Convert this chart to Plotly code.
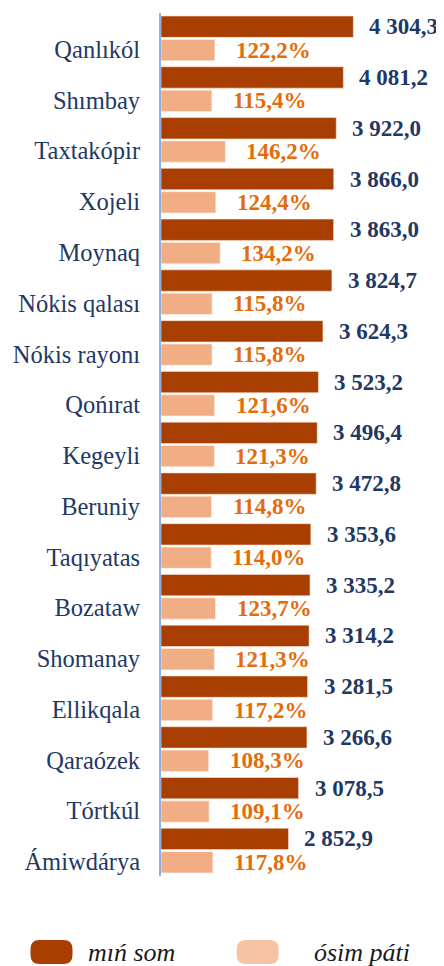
import plotly.graph_objects as go

categories = ["Qanlıkól", "Shımbay", "Taxtakópir", "Xojeli", "Moynaq", "Nókis qalası",
              "Nókis rayonı", "Qońırat", "Kegeyli", "Beruniy", "Taqıyatas", "Bozataw",
              "Shomanay", "Ellikqala", "Qaraózek", "Tórtkúl", "Ámiwdárya"]
min_som = [4304.3, 4081.2, 3922.0, 3866.0, 3863.0, 3824.7, 3624.3, 3523.2, 3496.4,
           3472.8, 3353.6, 3335.2, 3314.2, 3281.5, 3266.6, 3078.5, 2852.9]
osim_pati = [122.2, 115.4, 146.2, 124.4, 134.2, 115.8, 115.8, 121.6, 121.3,
             114.8, 114.0, 123.7, 121.3, 117.2, 108.3, 109.1, 117.8]
series_names = ["mıń som", "ósim páti"]

# page offset of the plot div (default body margin)
OFF = 8
W, H = 444 - OFF, 966 - OFF
ML, MR, MT, MB = 156 - OFF, 10, 13 - OFF, 90
PW = W - ML - MR
PH = H - MT - MB

DARK = "#A83E02"
LIGHT = "#F1AE85"
NAVY = "#1F3864"
ORANGE = "#E46C0A"
SERIF = "Liberation Serif, Times New Roman, serif"


def fmt_num(v):
    return f"{v:,.1f}".replace(",", " ").replace(".", ",")


def fmt_pct(v):
    return f"{v:.1f}%".replace(".", ",")


fig = go.Figure()
fig.add_trace(go.Bar(
    y=categories, x=min_som, orientation="h", name=series_names[0],
    marker=dict(color=DARK, line=dict(color="rgba(255,230,215,0.7)", width=0.8)),
    offset=-0.44, width=0.42, xaxis="x", yaxis="y", showlegend=False,
))
fig.add_trace(go.Bar(
    y=categories, x=osim_pati, orientation="h", name=series_names[1],
    marker=dict(color=LIGHT, line=dict(color="rgba(255,240,230,0.8)", width=0.8)),
    offset=0.02, width=0.42, xaxis="x2", yaxis="y", showlegend=False,
))

annotations = []
for i, (v, g) in enumerate(zip(min_som, osim_pati)):
    annotations.append(dict(
        x=v, y=i - 0.23, xref="x", yref="y", text=fmt_num(v), showarrow=False,
        xanchor="left", yanchor="middle", xshift=14,
        font=dict(family=SERIF, size=23, color=NAVY, weight="bold"),
    ))
    annotations.append(dict(
        x=g, y=i + 0.23, xref="x2", yref="y", text=fmt_pct(g), showarrow=False,
        xanchor="left", yanchor="middle", xshift=19,
        font=dict(family=SERIF, size=23, color=ORANGE, weight="bold"),
    ))


def px_x(px):
    return (px - OFF - ML) / PW


def px_y(py):
    return (H - MB - (py - OFF)) / PH


def pill(w, h, r):
    hw, hh = w / 2, h / 2
    return (f"M {-hw + r},{-hh} L {hw - r},{-hh} Q {hw},{-hh} {hw},{-hh + r} "
            f"L {hw},{hh - r} Q {hw},{hh} {hw - r},{hh} L {-hw + r},{hh} "
            f"Q {-hw},{hh} {-hw},{hh - r} L {-hw},{-hh + r} Q {-hw},{-hh} {-hw + r},{-hh} Z")


legend_items = [(44.5, 80, DARK, series_names[0]), (254.5, 310, "#F6C3A3", series_names[1])]
shapes = []
for cx, tx, col, name in legend_items:
    shapes.append(dict(
        type="path", xref="paper", yref="paper", xsizemode="pixel", ysizemode="pixel",
        xanchor=px_x(cx), yanchor=px_y(952), path=pill(42, 24, 9),
        fillcolor=col, line=dict(width=0),
    ))
    annotations.append(dict(
        x=px_x(tx), y=px_y(952), xref="paper", yref="paper", text=f"<i>{name}</i>",
        showarrow=False, xanchor="left", yanchor="middle",
        font=dict(family=SERIF, size=26, color="#1a1a1a"),
    ))

fig.update_layout(
    width=W, height=H,
    margin=dict(l=ML, r=MR, t=MT, b=MB),
    paper_bgcolor="white", plot_bgcolor="white",
    barmode="overlay",
    showlegend=False,
    xaxis=dict(range=[0, 6110], visible=False, fixedrange=True),
    xaxis2=dict(range=[0, 619.5], overlaying="x", visible=False, fixedrange=True),
    yaxis=dict(
        type="category", range=[16.5, -0.5], showline=True, linecolor="#93AEDA",
        linewidth=2, showgrid=False, zeroline=False, ticks="",
        ticklabelstandoff=14, ticklabelshift=-11,
        tickfont=dict(family=SERIF, size=24.5, color=NAVY),
    ),
    annotations=annotations,
    shapes=shapes,
)

fig.write_html("out.html")
